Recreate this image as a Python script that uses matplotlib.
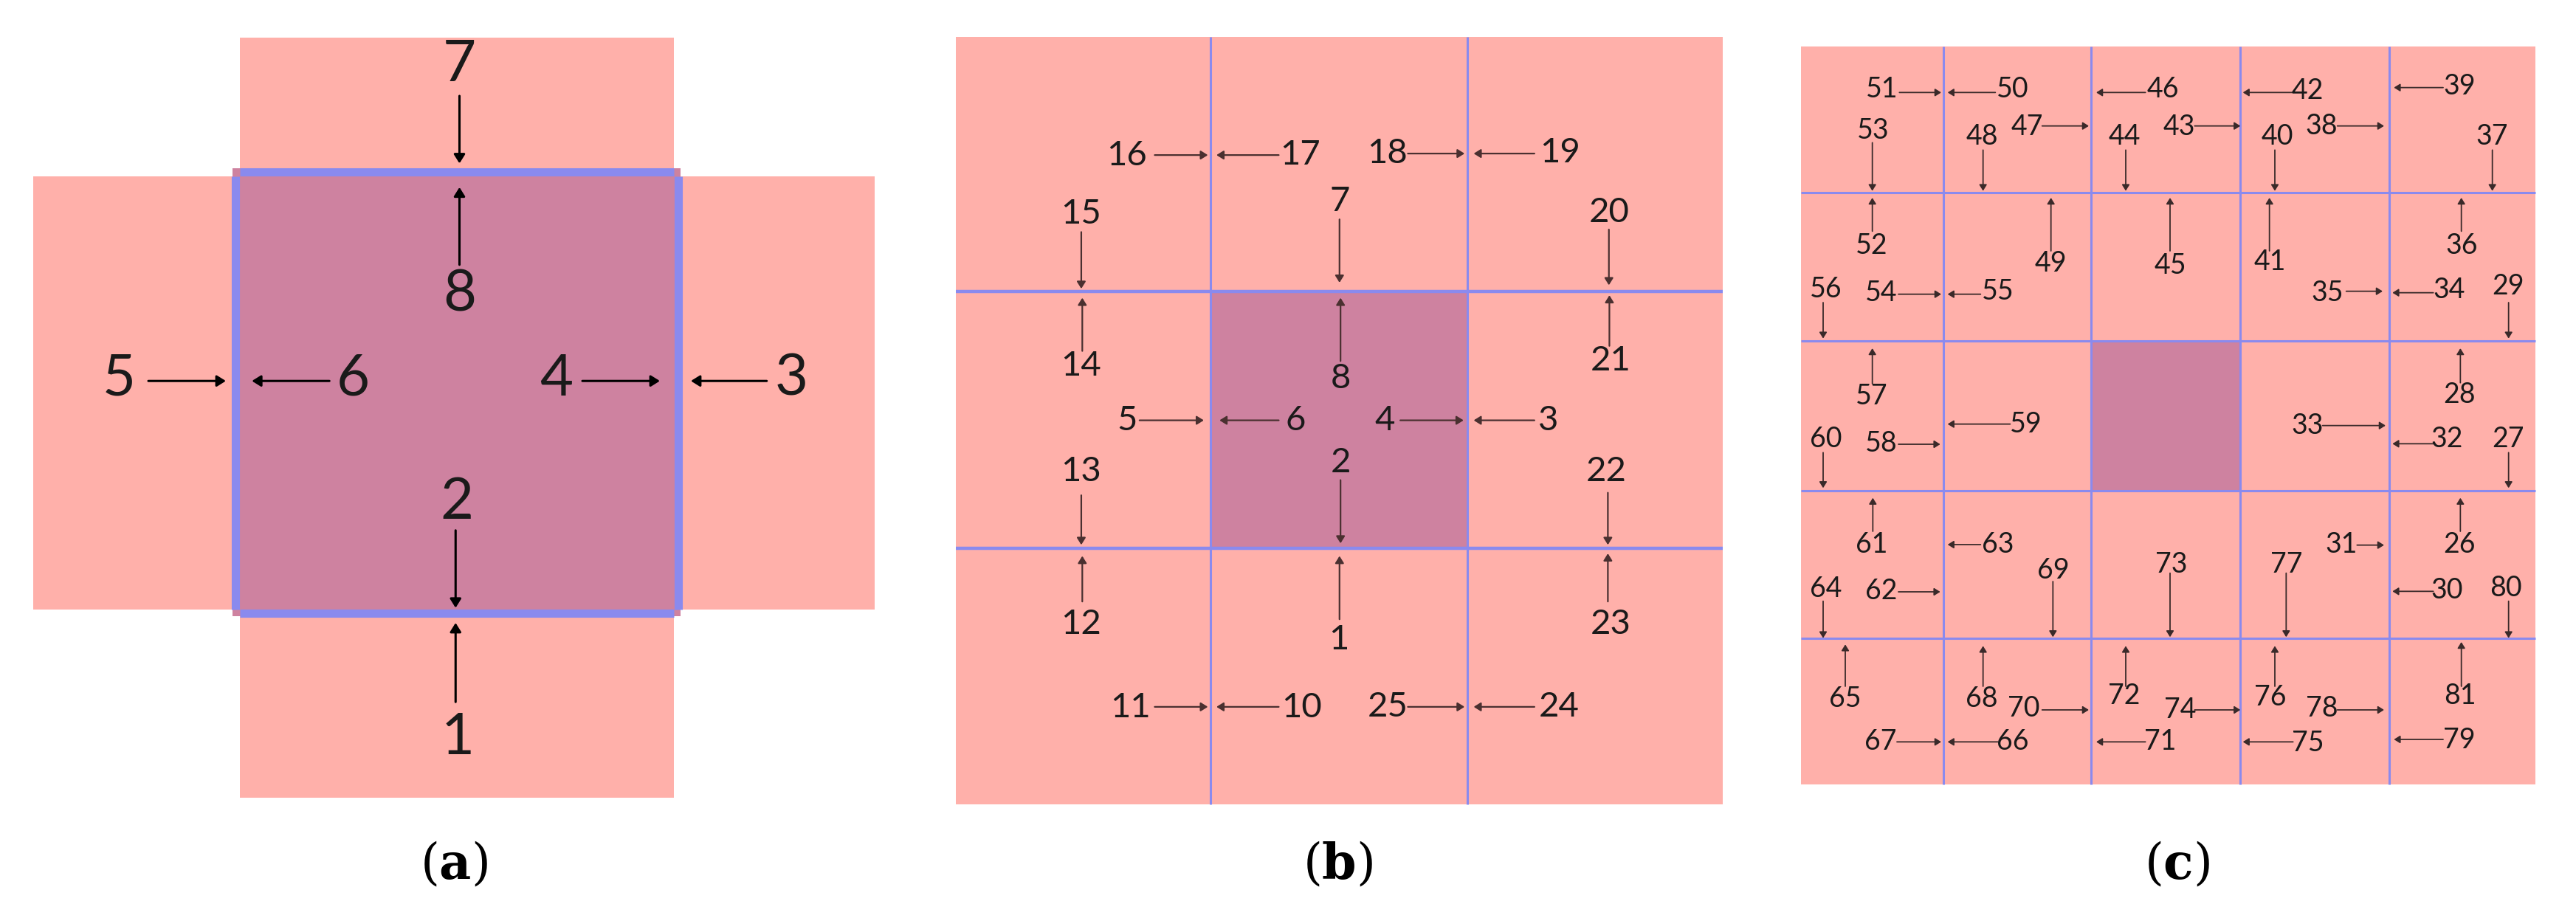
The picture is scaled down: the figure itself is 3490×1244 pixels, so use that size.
import matplotlib
matplotlib.use('Agg')
import matplotlib.pyplot as plt
from matplotlib.patches import Rectangle

plt.rcParams['mathtext.fontset'] = 'dejavuserif'

PINK = '#FFB0AA'
MAUVE = '#CE82A0'
BLUE = '#8A8AEE'

# Each arrow: label, label x, label y, arrow fixed coord, start, end, orientation
# coordinates are in the zoom frame of each panel (converted below)

# panel (a): frame origin (30, 40), scale 0.75
a_arrows = [
    ('7', 790, 65, 790, 120, 242, 'v'),
    ('8', 790, 480, 790, 425, 285, 'v'),
    ('5', 175, 632, 635, 228, 368, 'h'),
    ('6', 598, 632, 635, 555, 415, 'h'),
    ('4', 965, 632, 635, 1012, 1152, 'h'),
    ('3', 1390, 632, 635, 1345, 1208, 'h'),
    ('2', 785, 855, 783, 905, 1045, 'v'),
    ('1', 787, 1280, 783, 1215, 1072, 'v'),
]

# panel (b): frame origin (1290, 40), scale 0.686
b_arrows = [
    ('16', 345, 250, 248, 400, 505, 'h'),
    ('17', 688, 248, 248, 645, 522, 'h'),
    ('18', 860, 245, 245, 900, 1012, 'h'),
    ('19', 1200, 243, 245, 1150, 1030, 'h'),
    ('15', 255, 365, 255, 400, 512, 'v'),
    ('7', 765, 340, 765, 375, 500, 'v'),
    ('20', 1297, 362, 1297, 395, 505, 'v'),
    ('14', 255, 665, 257, 635, 530, 'v'),
    ('8', 767, 690, 767, 655, 530, 'v'),
    ('21', 1300, 655, 1298, 625, 525, 'v'),
    ('5', 345, 772, 772, 370, 497, 'h'),
    ('6', 678, 772, 772, 645, 528, 'h'),
    ('4', 855, 772, 772, 885, 1010, 'h'),
    ('3', 1178, 772, 772, 1150, 1030, 'h'),
    ('13', 255, 873, 255, 920, 1018, 'v'),
    ('2', 767, 855, 767, 890, 1015, 'v'),
    ('22', 1292, 873, 1295, 915, 1018, 'v'),
    ('12', 255, 1175, 257, 1130, 1040, 'v'),
    ('1', 763, 1205, 765, 1165, 1040, 'v'),
    ('23', 1300, 1175, 1295, 1130, 1035, 'v'),
    ('11', 352, 1340, 1338, 400, 505, 'h'),
    ('10', 690, 1340, 1338, 645, 522, 'h'),
    ('25', 860, 1338, 1338, 900, 1012, 'h'),
    ('24', 1198, 1338, 1338, 1150, 1030, 'h'),
]

# panel (c): frame origin (2440, 40), scale 0.6667
c_arrows = [
    ('51', 165, 122, 128, 200, 285, 'h'), ('50', 430, 122, 128, 395, 298, 'h'),
    ('46', 735, 122, 128, 700, 600, 'h'), ('42', 1030, 125, 128, 1000, 898, 'h'),
    ('39', 1338, 115, 118, 1305, 1205, 'h'),
    ('53', 147, 205, 145, 230, 328, 'v'), ('48', 368, 218, 370, 245, 328, 'v'),
    ('47', 460, 198, 196, 490, 585, 'h'), ('44', 658, 218, 660, 245, 328, 'v'),
    ('43', 768, 198, 196, 800, 893, 'h'), ('40', 968, 218, 963, 245, 328, 'v'),
    ('38', 1058, 196, 196, 1090, 1185, 'h'), ('37', 1405, 217, 1405, 245, 328, 'v'),
    ('52', 143, 440, 145, 410, 342, 'v'), ('49', 507, 475, 508, 450, 342, 'v'),
    ('45', 750, 480, 750, 450, 342, 'v'), ('41', 953, 472, 952, 450, 342, 'v'),
    ('36', 1343, 440, 1342, 410, 342, 'v'),
    ('56', 50, 528, 45, 555, 628, 'v'), ('54', 163, 535, 538, 198, 285, 'h'),
    ('55', 400, 532, 538, 365, 298, 'h'), ('35', 1070, 535, 532, 1108, 1182, 'h'),
    ('34', 1318, 530, 535, 1285, 1202, 'h'), ('29', 1437, 522, 1438, 555, 628, 'v'),
    ('57', 143, 745, 145, 720, 648, 'v'), ('59', 457, 802, 802, 425, 298, 'h'),
    ('60', 50, 832, 45, 860, 932, 'v'), ('58', 163, 842, 843, 198, 283, 'h'),
    ('33', 1030, 805, 805, 1060, 1188, 'h'), ('32', 1313, 833, 842, 1285, 1202, 'h'),
    ('28', 1338, 743, 1340, 718, 648, 'v'), ('27', 1437, 832, 1438, 860, 932, 'v'),
    ('61', 143, 1047, 146, 1020, 952, 'v'), ('63', 400, 1047, 1047, 365, 298, 'h'),
    ('31', 1098, 1047, 1048, 1130, 1185, 'h'), ('26', 1338, 1047, 1340, 1020, 952, 'v'),
    ('69', 512, 1100, 512, 1122, 1235, 'v'), ('73', 752, 1087, 750, 1105, 1235, 'v'),
    ('77', 987, 1087, 986, 1105, 1235, 'v'), ('64', 50, 1137, 45, 1162, 1237, 'v'),
    ('62', 163, 1142, 1143, 198, 283, 'h'), ('30', 1313, 1140, 1142, 1285, 1202, 'h'),
    ('80', 1432, 1135, 1438, 1162, 1237, 'v'),
    ('65', 90, 1360, 90, 1335, 1250, 'v'), ('68', 367, 1360, 370, 1335, 1253, 'v'),
    ('72', 657, 1355, 660, 1335, 1253, 'v'), ('76', 953, 1357, 963, 1335, 1253, 'v'),
    ('81', 1340, 1355, 1342, 1335, 1245, 'v'),
    ('70', 452, 1380, 1383, 490, 585, 'h'), ('74', 770, 1383, 1383, 800, 893, 'h'),
    ('78', 1058, 1380, 1383, 1090, 1185, 'h'),
    ('67', 162, 1447, 1448, 195, 285, 'h'), ('66', 430, 1448, 1448, 400, 298, 'h'),
    ('71', 730, 1448, 1448, 700, 600, 'h'), ('75', 1030, 1450, 1448, 1000, 898, 'h'),
    ('79', 1338, 1445, 1443, 1305, 1205, 'h'),
]

captions = ['a', 'b', 'c']
caption_x = [615, 1813, 2950]

fig = plt.figure(figsize=(34.91, 12.44), dpi=100)
ax = fig.add_axes([0, 0, 1, 1])
ax.set_xlim(0, 3491)
ax.set_ylim(1244, 0)
ax.axis('off')


def tf(ox, oy, s):
    return lambda x, y: (ox + x * s, oy + y * s)


def rect(t, x0, y0, x1, y1, color, z=1):
    (X0, Y0), (X1, Y1) = t(x0, y0), t(x1, y1)
    ax.add_patch(Rectangle((X0, Y0), X1 - X0, Y1 - Y0, color=color, lw=0, zorder=z))


def hline(t, x0, x1, y, lw):
    (X0, Y), (X1, _) = t(x0, y), t(x1, y)
    ax.plot([X0, X1], [Y, Y], color=BLUE, lw=lw, zorder=2, solid_capstyle='butt')


def vline(t, x, y0, y1, lw):
    (X, Y0), (_, Y1) = t(x, y0), t(x, y1)
    ax.plot([X, X], [Y0, Y1], color=BLUE, lw=lw, zorder=2, solid_capstyle='butt')


def draw_arrows(t, arrows, fs, lw, hw, col):
    for lab, lx, ly, c, s, e, o in arrows:
        X, Y = t(lx, ly)
        ax.text(X, Y, lab, fontsize=fs, family='Lato', ha='center', va='center',
                color='#1a1a1a', zorder=4)
        if o == 'h':
            p0, p1 = t(s, c), t(e, c)
        else:
            p0, p1 = t(c, s), t(c, e)
        ax.annotate('', xy=p1, xytext=p0, zorder=3,
                    arrowprops=dict(arrowstyle='-|>,head_length=%.2f,head_width=%.2f' % (hw * 1.6, hw),
                                    color=col, lw=lw, shrinkA=0, shrinkB=0))


# panel (a)
ta = tf(30, 40, 0.75)
rect(ta, 393, 15, 1177, 250, PINK)
rect(ta, 393, 1060, 1177, 1388, PINK)
rect(ta, 20, 265, 380, 1048, PINK)
rect(ta, 1190, 265, 1540, 1048, PINK)
rect(ta, 380, 250, 1190, 1060, MAUVE)
hline(ta, 393, 1177, 257, 8)
hline(ta, 393, 1177, 1054, 8)
vline(ta, 385, 265, 1048, 8)
vline(ta, 1185, 265, 1048, 8)
draw_arrows(ta, a_arrows, 56, 2.2, 0.45, 'black')

# panel (b)
tb = tf(1290, 40, 0.686)
rect(tb, 8, 15, 1522, 1530, PINK)
rect(tb, 510, 518, 1018, 1025, MAUVE)
for gx in (510, 1018):
    vline(tb, gx, 15, 1530, 2.2)
for gy in (518, 1025):
    hline(tb, 8, 1522, gy, 3.2)
draw_arrows(tb, b_arrows, 34, 1.6, 0.35, '#4a3030')

# panel (c)
tc = tf(2440, 40, 2 / 3)
rect(tc, 0, 35, 1493, 1535, PINK)
rect(tc, 590, 633, 893, 937, MAUVE)
for gx in (290, 590, 893, 1195):
    vline(tc, gx, 35, 1535, 2.2)
for gy in (332, 633, 937, 1238):
    hline(tc, 0, 1493, gy, 2.2)
draw_arrows(tc, c_arrows, 27, 1.3, 0.3, '#3a2a2a')

for cap, cx in zip(captions, caption_x):
    ax.text(cx, 1172, r'($\mathbf{%s}$)' % cap, fontsize=48, family='DejaVu Serif',
            ha='center', va='center')

fig.savefig('out.png', dpi=100)
